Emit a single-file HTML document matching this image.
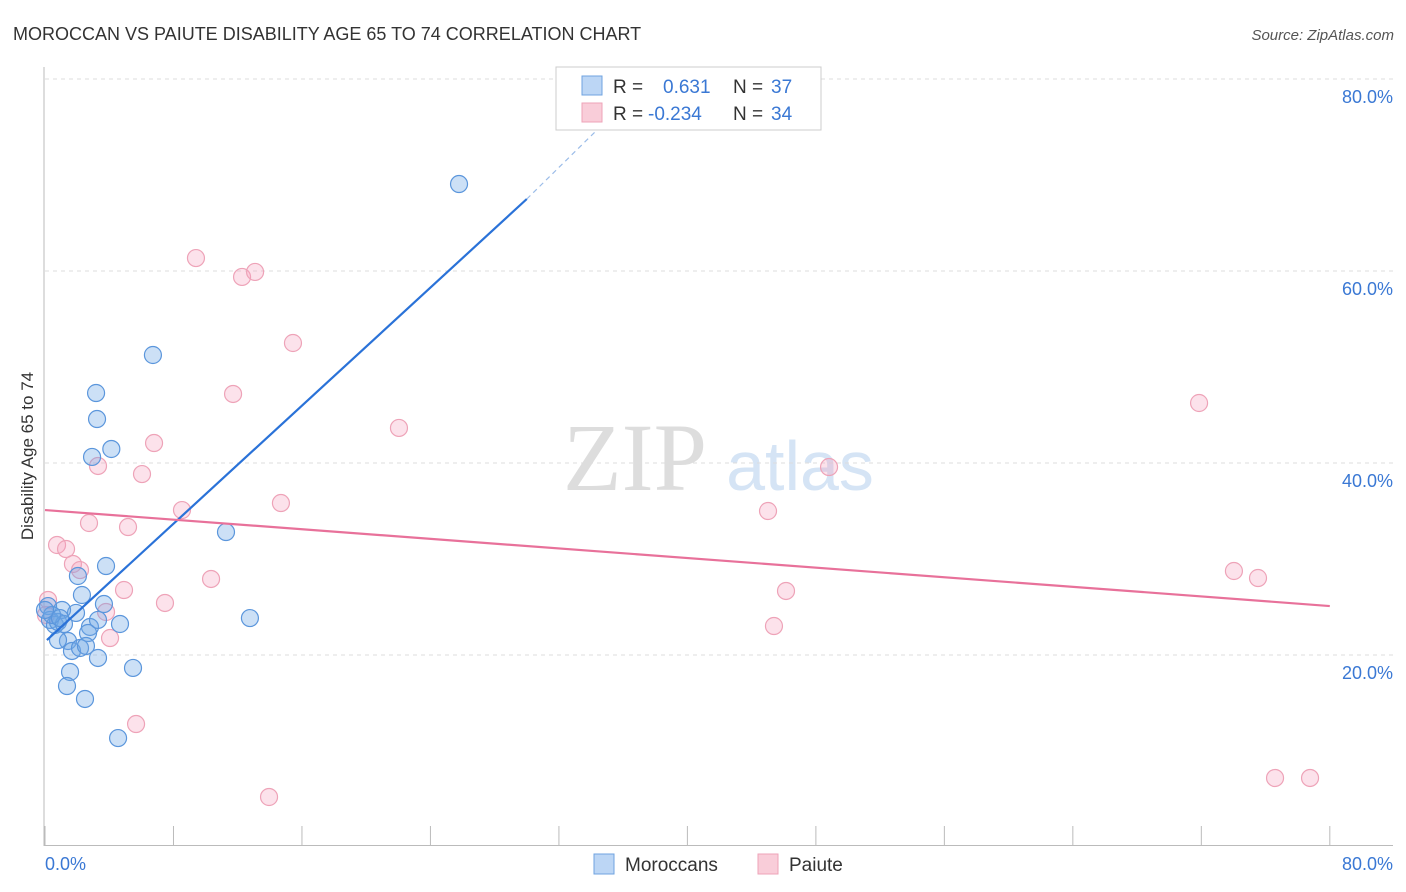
<!DOCTYPE html>
<html><head><meta charset="utf-8">
<style>
body{margin:0;background:#fff;font-family:"Liberation Sans",sans-serif}
svg{display:block}
</style></head>
<body>
<svg id="chart" width="1406" height="892" viewBox="0 0 1406 892">
<text x="13" y="40" font-size="18" fill="#333">MOROCCAN VS PAIUTE DISABILITY AGE 65 TO 74 CORRELATION CHART</text>
<text x="1394" y="40" font-size="15" fill="#555" text-anchor="end" font-style="italic">Source: ZipAtlas.com</text>
<text transform="translate(33,456) rotate(-90)" font-size="17" fill="#333" text-anchor="middle">Disability Age 65 to 74</text>
<g>
<text x="635" y="490" font-size="96" fill="#ddd" text-anchor="middle" font-family="Liberation Serif,serif">ZIP</text>
<text x="800" y="490" font-size="70" fill="#d5e4f5" text-anchor="middle">atlas</text>
</g>
<g id="grid"></g><g id="axes"></g><g id="marks"></g>
<g>
<rect x="556" y="67" width="265" height="63" fill="#fff" stroke="#ccc"/>
<rect x="582" y="76" width="20" height="19" fill="#bcd6f5" stroke="#6fa3e0"/>
<rect x="582" y="103" width="20" height="19" fill="#f9cdd9" stroke="#eea3b8"/>
<text x="613" y="93" font-size="19" fill="#333">R = </text><text x="663" y="93" font-size="19" fill="#3a78d4">0.631</text>
<text x="733" y="93" font-size="19" fill="#333">N = </text><text x="771" y="93" font-size="19" fill="#3a78d4">37</text>
<text x="613" y="120" font-size="19" fill="#333">R = </text><text x="648" y="120" font-size="19" fill="#3a78d4">-0.234</text>
<text x="733" y="120" font-size="19" fill="#333">N = </text><text x="771" y="120" font-size="19" fill="#3a78d4">34</text>
</g>
<g>
<rect x="594" y="854" width="20" height="20" fill="#bcd6f5" stroke="#6fa3e0"/>
<text x="625" y="871" font-size="19" fill="#333">Moroccans</text>
<rect x="758" y="854" width="20" height="20" fill="#f9cdd9" stroke="#eea3b8"/>
<text x="789" y="871" font-size="19" fill="#333">Paiute</text>
</g>
</svg>
<script>
const blueX=[25.78,6.72,3.18,3.24,2.93,4.13,11.27,3.80,2.05,2.30,3.67,4.67,12.76,1.93,1.06,0.19,0.31,0.62,0.81,1.18,0.44,2.80,2.68,3.30,1.43,0.81,1.68,2.18,2.55,3.30,5.48,1.56,1.37,2.49,4.55,0.93,0];
const blueY=[69.06,51.25,47.29,44.58,40.63,41.46,32.81,29.27,28.23,26.25,25.31,23.23,23.85,24.38,24.69,25.10,23.65,23.13,23.44,23.23,24.17,22.92,22.29,23.65,21.46,21.56,20.42,20.73,20.94,19.69,18.65,18.23,16.77,15.42,11.35,23.85,24.69];
const pinkX=[9.40,12.27,13.08,15.44,11.71,22.04,6.79,3.30,6.04,8.53,14.69,2.74,5.17,0.75,1.31,1.74,2.18,4.92,3.80,7.47,10.34,4.05,5.67,13.95,0.19,0.06,71.86,48.82,45.02,74.03,75.53,46.14,45.39,76.59,78.77];
const pinkY=[61.35,59.38,59.90,52.50,47.19,43.65,42.08,39.69,38.85,35.10,35.83,33.75,33.33,31.46,31.04,29.48,28.85,26.77,24.48,25.42,27.92,21.77,12.81,5.21,25.73,24.17,46.25,39.58,35.00,28.75,28.02,26.67,23.02,7.19,7.19];
const blueLine=[0.12,21.56,30,67.5,37.6,80];
const pinkLine=[0,35.10,80,25.1];
const yTicks=[20,40,60,80];
const yTickLabels=["20.0%","40.0%","60.0%","80.0%"];
const xTicks=[0,8,16,24,32,40,48,56,64,72,80];

const NS="http://www.w3.org/2000/svg";
const sx=v=>45+v*16.06, sy=v=>847-v*9.6;
function mk(parent,tag,attrs){const e=document.createElementNS(NS,tag);for(const k in attrs)e.setAttribute(k,attrs[k]);document.getElementById(parent).appendChild(e);return e;}

yTicks.forEach((t,i)=>{
 const g=mk('grid','line',{x1:45,x2:1393,y1:sy(t),y2:sy(t),stroke:'#ddd','stroke-dasharray':'4,4'});
 
 
 const l=mk('grid','text',{x:1393,y:sy(t)+24,'font-size':18,fill:'#3a78d4','text-anchor':'end'});
 l.textContent=yTickLabels[i];
 
 
});
const ya=mk('axes','line',{x1:44,x2:44,y1:67,y2:846,stroke:'#bbb'});


const xa=mk('axes','line',{x1:44,x2:1393,y1:845.5,y2:845.5,stroke:'#bbb'});


xTicks.forEach(t=>{
 const k=mk('axes','line',{x1:sx(t),x2:sx(t),y1:826,y2:845,stroke:'#bbb'});
 
 
});
const xl0=mk('axes','text',{x:45,y:870,'font-size':18,fill:'#3a78d4'});xl0.textContent='0.0%';


const xl1=mk('axes','text',{x:1393,y:870,'font-size':18,fill:'#3a78d4','text-anchor':'end'});xl1.textContent='80.0%';



pinkX.forEach((x,i)=>{
 const c=mk('marks','circle',{cx:sx(x),cy:sy(pinkY[i]),r:8.5,fill:'rgba(245,160,188,0.3)',stroke:'#eea3b8','stroke-width':1.2});
 
 
});
blueX.forEach((x,i)=>{
 const c=mk('marks','circle',{cx:sx(x),cy:sy(blueY[i]),r:8.5,fill:'rgba(110,165,230,0.35)',stroke:'#5b96dc','stroke-width':1.2});
 
 
});
const bl=mk('marks','line',{x1:sx(blueLine[0]),y1:sy(blueLine[1]),x2:sx(blueLine[2]),y2:sy(blueLine[3]),stroke:'#2a72d8','stroke-width':2.2});


const bd=mk('marks','line',{x1:sx(blueLine[2]),y1:sy(blueLine[3]),x2:sx(blueLine[4]),y2:sy(blueLine[5]),stroke:'#9bbce8','stroke-width':1.2,'stroke-dasharray':'5,4'});


const pl=mk('marks','line',{x1:sx(pinkLine[0]),y1:sy(pinkLine[1]),x2:sx(pinkLine[2]),y2:sy(pinkLine[3]),stroke:'#e8719a','stroke-width':2.2});


</script>
</body></html>
